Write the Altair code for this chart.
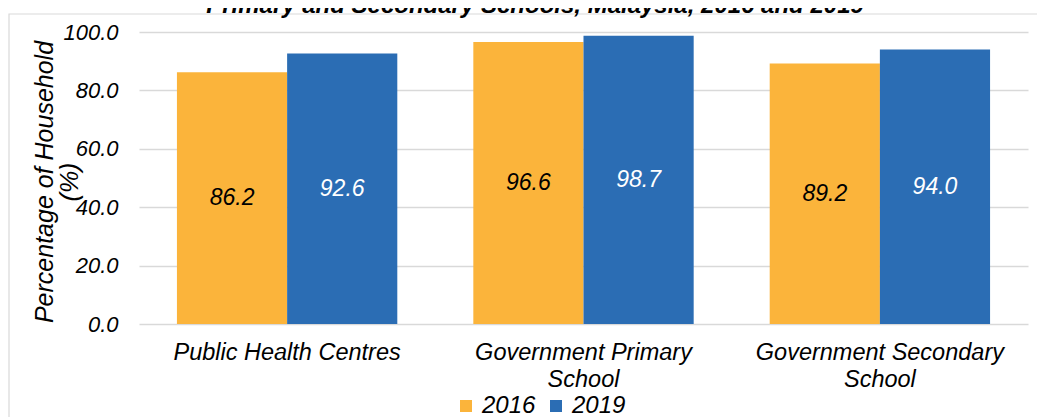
import altair as alt
import pandas as pd

categories = ["Public Health Centres", "Government Primary\nSchool", "Government Secondary\nSchool"]
years = ["2016", "2019"]
values_2016 = [86.2, 96.6, 89.2]
values_2019 = [92.6, 98.7, 94.0]
y_ticks = [0, 20, 40, 60, 80, 100]
colors = ["#FBB43B", "#2B6DB4"]
title_text = "Primary and Secondary Schools, Malaysia, 2016 and 2019"
y_title = ["Percentage of Household", "(%)"]

rows = []
for c, a, b in zip(categories, values_2016, values_2019):
    rows.append({"category": c, "year": "2016", "value": a})
    rows.append({"category": c, "year": "2019", "value": b})
df = pd.DataFrame(rows)

FONT = "Liberation Sans"

x_enc = alt.X(
    "category:N", sort=categories,
    scale=alt.Scale(paddingInner=0.2565, paddingOuter=0.128),
    axis=alt.Axis(title=None, labelExpr="split(datum.label, '\\n')", labelAngle=0,
                  labelFont=FONT, labelFontSize=23.5, labelFontStyle="italic",
                  labelColor="#000000", labelPadding=16, labelLineHeight=27,
                  labelLimit=0, domain=False, ticks=False, grid=False),
)
y_enc = alt.Y(
    "value:Q", scale=alt.Scale(domain=[0, 100], nice=False),
    axis=alt.Axis(title=None, values=y_ticks, format=".1f", labelFont=FONT,
                  labelFontSize=22, labelFontStyle="italic", labelColor="#000000",
                  labelPadding=21, domain=False, ticks=False,
                  gridColor="#d9d9d9", gridWidth=1.5),
)

base = alt.Chart(df)

bars = base.mark_bar().encode(
    x=x_enc,
    xOffset=alt.XOffset("year:N", sort=years, scale=alt.Scale(paddingInner=0, paddingOuter=0)),
    y=y_enc,
    color=alt.Color("year:N", sort=years,
                    scale=alt.Scale(domain=years, range=colors),
                    legend=alt.Legend(orient="none", legendX=315, legendY=362,
                                      direction="horizontal", title=None,
                                      symbolType="square", symbolSize=144,
                                      symbolStrokeWidth=0, labelFont=FONT,
                                      labelFontSize=24, labelFontStyle="italic",
                                      labelColor="#000000", labelOffset=4,
                                      columnPadding=8, padding=0)),
)

labels = base.transform_calculate(half="datum.value / 2").mark_text(
    font=FONT, fontSize=23, fontStyle="italic", baseline="middle", align="center"
).encode(
    x=alt.X("category:N", sort=categories),
    xOffset=alt.XOffset("year:N", sort=years),
    y=alt.Y("half:Q"),
    text=alt.Text("value:Q", format=".1f"),
    color=alt.condition("datum.year == '2016'", alt.value("#000000"), alt.value("#ffffff")),
)

one = pd.DataFrame({"t": [title_text]})
title = alt.Chart(one).mark_text(
    font=FONT, fontSize=24, fontStyle="italic", fontWeight="bold",
    align="center", baseline="alphabetic", color="#000000"
).encode(text="t:N", x=alt.value(396), y=alt.value(-19))

border = alt.Chart(one).mark_rect(
    fill=None, stroke="#d9d9d9", strokeWidth=1.2
).encode(x=alt.value(-130), x2=alt.value(1200), y=alt.value(-18), y2=alt.value(600))

yt = pd.DataFrame({"t": [y_title]})
ytitle = alt.Chart(yt).mark_text(
    font=FONT, fontSize=25, fontStyle="italic", angle=270, align="center",
    baseline="middle", lineHeight=25, color="#000000"
).encode(text="t:N", x=alt.value(-94), y=alt.value(150))

chart = alt.layer(border, bars, labels, title, ytitle).properties(
    width=889, height=292,
    autosize=alt.AutoSizeParams(type="none"),
    padding={"left": 131, "top": 24, "right": 9, "bottom": 93},
).configure_view(stroke=None)

chart.save("out.html", embed_options={"renderer": "svg", "actions": False})
